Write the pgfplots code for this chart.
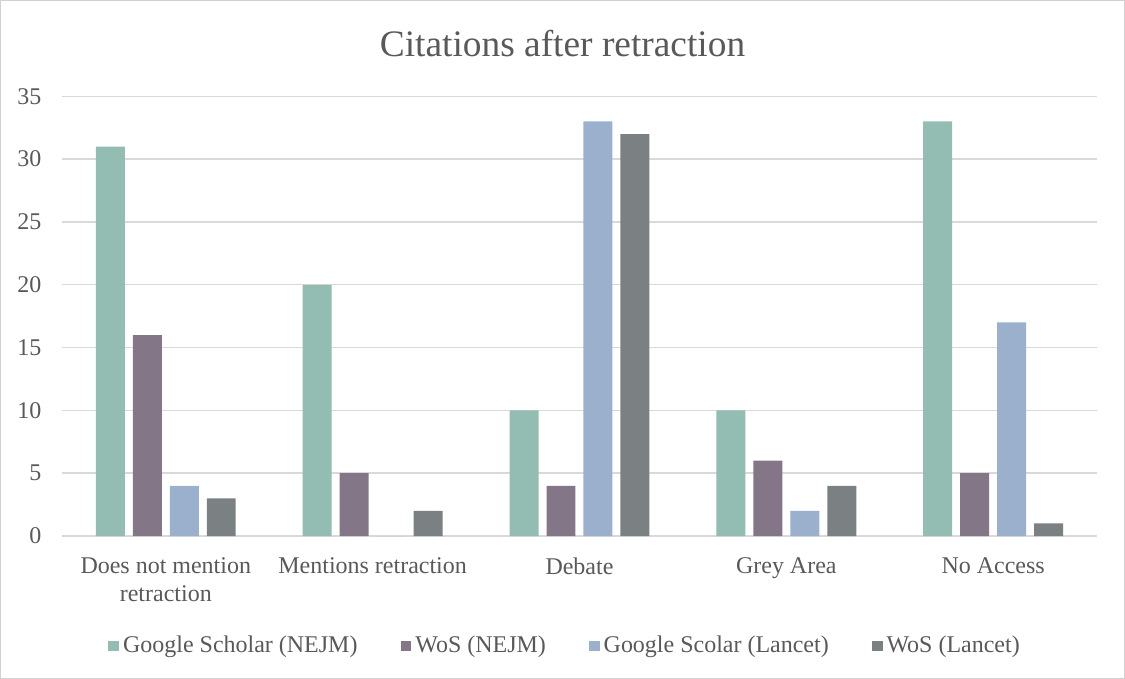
\documentclass[border=0pt]{standalone}
\usepackage{pgfplots}
\pgfplotsset{compat=1.18}
\usepackage{fontspec}
\setmainfont{Liberation Serif}
\definecolor{c1}{HTML}{93BDB3}
\definecolor{c2}{HTML}{837787}
\definecolor{c3}{HTML}{9AB0CC}
\definecolor{c4}{HTML}{7B8083}
\definecolor{txt}{HTML}{595959}
\definecolor{gridc}{HTML}{D9D9D9}
\begin{document}
\begin{tikzpicture}
\path[use as bounding box, draw=black!18] (0,0) rectangle (562.5pt,339pt);
\node[text=txt, font=\fontsize{18.7}{22}\selectfont] at (281.25pt,317.5pt) {Citations after retraction};
\begin{axis}[
  at={(31pt,71pt)}, anchor=south west,
  scale only axis, width=517.5pt, height=220pt,
  ymin=0, ymax=35, ytick={0,5,...,35},
  xmin=-0.5, xmax=4.5, xtick={0,1,2,3,4},
  xticklabels={{Does not mention\\retraction}, {Mentions retraction}, {Debate}, {Grey Area}, {No Access}},
  xticklabel style={align=center, font=\fontsize{12}{14}\selectfont, text=txt, yshift=-7.5pt},
  yticklabel style={font=\fontsize{12}{14}\selectfont, text=txt, xshift=-7pt},
  /pgf/number format/assume math mode=true,
  ymajorgrids, grid style={draw=gridc, line width=0.7pt},
  axis line style={draw=none},
  major tick length=0pt,
  ybar=4pt, bar width=14.5pt,
  legend style={at={(0.487,-0.25)}, anchor=center, legend columns=4, draw=none,
    font=\fontsize{12}{14}\selectfont, text=txt,
    /tikz/every even column/.append style={column sep=19.5pt}},
  legend image code/.code={\fill[#1] (0pt,-2.7pt) rectangle (5.4pt,2.7pt);},
  clip=false,
]
\addplot[fill=c1, draw=none] coordinates {(0,31) (1,20) (2,10) (3,10) (4,33)};
\addplot[fill=c2, draw=none] coordinates {(0,16) (1,5) (2,4) (3,6) (4,5)};
\addplot[fill=c3, draw=none] coordinates {(0,4) (1,0) (2,33) (3,2) (4,17)};
\addplot[fill=c4, draw=none] coordinates {(0,3) (1,2) (2,32) (3,4) (4,1)};
\legend{Google Scholar (NEJM), WoS (NEJM), Google Scolar (Lancet), WoS (Lancet)}
\end{axis}
\end{tikzpicture}
\end{document}
